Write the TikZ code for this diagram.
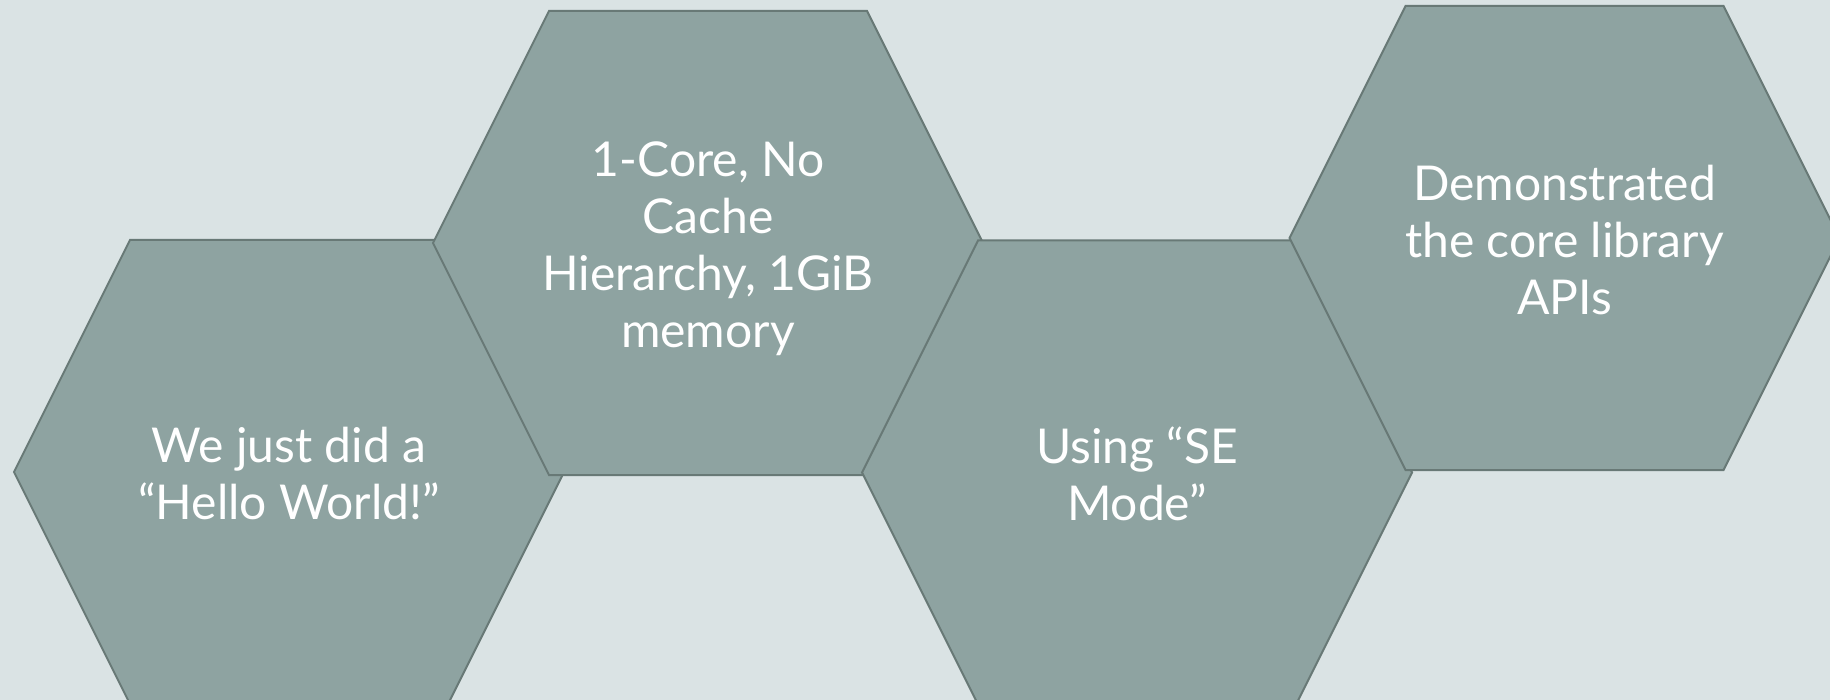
\documentclass[tikz,border=0pt]{standalone}
\usepackage{fontspec}
\setmainfont{Lato}
\definecolor{pagebg}{RGB}{218,227,228}
\definecolor{cellfill}{RGB}{142,163,161}
\definecolor{celledge}{RGB}{104,121,118}
\tikzset{
  hexcell/.style={fill=cellfill, draw=celledge, line width=1pt, line join=miter},
  hexlabel/.style={text=white, align=center, font=\fontsize{24}{28.5}\selectfont, inner sep=0pt},
  hex/.pic={\path[hexcell] (-275,0) -- (-159,-232) -- (159,-232) -- (275,0)
                            -- (159,232) -- (-159,232) -- cycle;}
}
\begin{document}
\begin{tikzpicture}[x=0.5pt, y=-0.5pt]
  % page area in pixel units
  \useasboundingbox (0,0) rectangle (1830,700);
  \fill[pagebg] (0,0) rectangle (1830,700);
  \clip (0,0) rectangle (1830,700);

  % honeycomb cells, each one drawn over the previous
  \pic at (289,472) {hex};
  \pic at (708,243) {hex};
  \pic at (1137,472.5) {hex};
  \pic at (1564.5,238) {hex};

  % cell texts
  \node[hexlabel] (hello) at (289,474) {We just did a\\“Hello World!”};
  \node[hexlabel] (system) at (708,249) {1-Core, No\\Cache\\Hierarchy, 1GiB\\memory};
  \node[hexlabel] (semode) at (1137,474) {Using “SE\\Mode”};
  \node[hexlabel] (apis) at (1564.5,240) {Demonstrated\\the core library\\APIs};
\end{tikzpicture}
\end{document}
